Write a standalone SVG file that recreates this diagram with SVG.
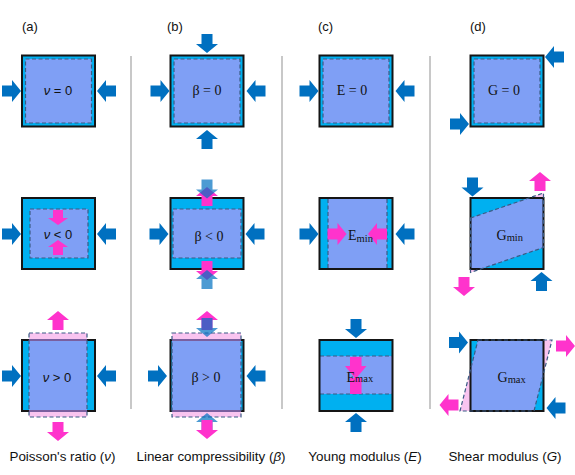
<svg xmlns="http://www.w3.org/2000/svg" xmlns:xlink="http://www.w3.org/1999/xlink" width="575" height="475" viewBox="0 0 575 475">
<style>
.cy{fill:#00b0f0}
.bd{fill:none;stroke:#151515;stroke-width:2}
.in{fill:#7f9ff5}
.dash{stroke:#3b5b85;stroke-width:1.2;stroke-dasharray:4 2.5}
.nf{fill:none}
.pk{fill:#f9c4f0}
.ab{fill:#0070c0}
.ap{fill:#ff33cc}
.at{fill:#0070c0;fill-opacity:0.7}
.pl{stroke:#7a5f9f;stroke-width:2}
.div{stroke:#c8c8c8;stroke-width:2}
.sans{font-family:"Liberation Sans",Arial,sans-serif;fill:#111}
.ser{font-family:"Liberation Serif","Times New Roman",serif;fill:#111;font-size:14px}
.lbl{font-size:13px}
.cap{font-size:13.4px}
</style>
<defs>
<path id="ar" d="M0,-5.5H10V-11L19,0L10,11V5.5H0Z"/>
<path id="ars" d="M0,-5H8V-10L15,0L8,10V5H0Z"/>
</defs>
<rect width="575" height="475" fill="#fff"/>
<g id="dividers">
<line class="div" x1="131" y1="56" x2="131" y2="409"/>
<line class="div" x1="282" y1="56" x2="282" y2="409"/>
<line class="div" x1="430" y1="56" x2="430" y2="409"/>
</g>
<g id="headers" class="sans lbl">
<text x="22" y="31">(a)</text>
<text x="167" y="31">(b)</text>
<text x="318" y="31">(c)</text>
<text x="470" y="31">(d)</text>
</g>
<g id="a1">
<rect class="cy" x="22" y="55.5" width="73" height="71"/>
<rect class="in dash" x="25.5" y="59" width="66" height="64"/>
<rect class="bd" x="22" y="55.5" width="73" height="71"/>
<text class="sans lbl" x="58" y="95" text-anchor="middle"><tspan font-style="italic">ν</tspan> = 0</text>
<use href="#ar" class="ab" transform="translate(2,91)"/>
<use href="#ar" class="ab" transform="translate(116,91) rotate(180)"/>
</g>
<g id="a2">
<rect class="cy" x="22" y="198" width="73" height="71"/>
<rect class="in dash" x="30" y="209" width="58" height="49"/>
<rect class="bd" x="22" y="198" width="73" height="71"/>
<use href="#ars" class="ap" transform="translate(58,210) rotate(90)"/>
<use href="#ars" class="ap" transform="translate(58,255) rotate(-90)"/>
<text class="sans lbl" x="58" y="239" text-anchor="middle"><tspan font-style="italic">ν</tspan> &lt; 0</text>
<use href="#ar" class="ab" transform="translate(2,234)"/>
<use href="#ar" class="ab" transform="translate(116,234) rotate(180)"/>
</g>
<g id="a3">
<rect class="pk" x="29" y="333" width="58" height="84"/>
<rect class="cy" x="22" y="340" width="73" height="71"/>
<rect class="in" x="29" y="340" width="58" height="71"/>
<rect class="bd" x="22" y="340" width="73" height="71"/>
<line class="pl" x1="29" y1="340" x2="87" y2="340"/>
<line class="pl" x1="29" y1="411" x2="87" y2="411"/>
<rect class="dash nf" x="29" y="333" width="58" height="84"/>
<text class="sans lbl" x="57" y="381.5" text-anchor="middle"><tspan font-style="italic">ν</tspan> &gt; 0</text>
<use href="#ar" class="ap" transform="translate(58,330) rotate(-90)"/>
<use href="#ar" class="ap" transform="translate(58,422) rotate(90)"/>
<use href="#ar" class="ab" transform="translate(2,376)"/>
<use href="#ar" class="ab" transform="translate(116,376) rotate(180)"/>
</g>
<g id="b1">
<rect class="cy" x="170.5" y="55.5" width="73" height="71"/>
<rect class="in dash" x="174" y="59" width="66" height="64"/>
<rect class="bd" x="170.5" y="55.5" width="73" height="71"/>
<text class="ser" x="207" y="95" text-anchor="middle">β = 0</text>
<use href="#ar" class="ab" transform="translate(150.5,91)"/>
<use href="#ar" class="ab" transform="translate(265.5,91) rotate(180)"/>
<use href="#ar" class="ab" transform="translate(207,34) rotate(90)"/>
<use href="#ar" class="ab" transform="translate(207,149) rotate(-90)"/>
</g>
<g id="b2">
<rect class="cy" x="170.5" y="198" width="73" height="71"/>
<rect class="in dash" x="173" y="209" width="68" height="49"/>
<rect class="bd" x="170.5" y="198" width="73" height="71"/>
<text class="ser" x="209" y="241" text-anchor="middle">β &lt; 0</text>
<use href="#ar" class="ab" transform="translate(149.5,234)"/>
<use href="#ar" class="ab" transform="translate(264.5,234) rotate(180)"/>
<use href="#ar" class="ap" transform="translate(207,206) rotate(-90)"/>
<use href="#ar" class="at" transform="translate(207,179.5) rotate(90)"/>
<use href="#ar" class="ap" transform="translate(207,261) rotate(90)"/>
<use href="#ar" class="at" transform="translate(207,289) rotate(-90)"/>
</g>
<g id="b3">
<rect class="pk" x="172" y="333" width="69" height="84"/>
<rect class="cy" x="170.5" y="340" width="73" height="71"/>
<rect class="in" x="172" y="340" width="69" height="71"/>
<rect class="bd" x="170.5" y="340" width="73" height="71"/>
<line class="pl" x1="172" y1="340" x2="241" y2="340"/>
<line class="pl" x1="172" y1="411" x2="241" y2="411"/>
<rect class="dash nf" x="172" y="333" width="69" height="84"/>
<text class="ser" x="206" y="381.5" text-anchor="middle">β &gt; 0</text>
<use href="#ar" class="ab" transform="translate(148,376)"/>
<use href="#ar" class="ab" transform="translate(265.5,376) rotate(180)"/>
<use href="#ar" class="ap" transform="translate(207,330) rotate(-90)"/>
<use href="#ar" class="at" transform="translate(207,318) rotate(90)"/>
<use href="#ar" class="at" transform="translate(207,432) rotate(-90)"/>
<use href="#ar" class="ap" transform="translate(207,420) rotate(90)"/>
</g>
<g id="c1">
<rect class="cy" x="319.5" y="55.5" width="73" height="71"/>
<rect class="in dash" x="323" y="59" width="66" height="64"/>
<rect class="bd" x="319.5" y="55.5" width="73" height="71"/>
<text class="ser" x="352" y="95" text-anchor="middle">E = 0</text>
<use href="#ar" class="ab" transform="translate(299.5,91)"/>
<use href="#ar" class="ab" transform="translate(414.5,91) rotate(180)"/>
</g>
<g id="c2">
<rect class="cy" x="319.5" y="198" width="73" height="71"/>
<rect class="in" x="328" y="198" width="59" height="71"/>
<line class="dash" x1="328" y1="199" x2="328" y2="268"/>
<line class="dash" x1="387" y1="199" x2="387" y2="268"/>
<rect class="bd" x="319.5" y="198" width="73" height="71"/>
<use href="#ar" class="ap" transform="translate(327.5,234)"/>
<use href="#ar" class="ap" transform="translate(387,234) rotate(180)"/>
<text class="ser" x="348" y="240">E<tspan font-size="10.5" dy="1.5">min</tspan></text>
<use href="#ar" class="ab" transform="translate(299.5,234)"/>
<use href="#ar" class="ab" transform="translate(414.5,234) rotate(180)"/>
</g>
<g id="c3">
<rect class="cy" x="319.5" y="340" width="73" height="71"/>
<rect class="in" x="319.5" y="356" width="73" height="38"/>
<line class="dash" x1="320" y1="356" x2="392" y2="356"/>
<line class="dash" x1="320" y1="394" x2="392" y2="394"/>
<rect class="bd" x="319.5" y="340" width="73" height="71"/>
<path class="ap" d="M350,357H361.5V366H366.5L355.7,379L345,366H350Z M350,378H361.5V394H350Z"/>
<text class="ser" x="346.5" y="381.5">E<tspan font-size="10.5">max</tspan></text>
<use href="#ar" class="ab" transform="translate(356,319) rotate(90)"/>
<use href="#ar" class="ab" transform="translate(356,432) rotate(-90)"/>
</g>
<g id="d1">
<rect class="cy" x="470.5" y="55.5" width="73" height="71"/>
<rect class="in dash" x="474" y="59" width="66" height="64"/>
<rect class="bd" x="470.5" y="55.5" width="73" height="71"/>
<text class="ser" x="504" y="95" text-anchor="middle">G = 0</text>
<use href="#ar" class="ab" transform="translate(564,57) rotate(180)"/>
<use href="#ar" class="ab" transform="translate(450,124)"/>
</g>
<g id="d2">
<polygon class="pk" points="470.5,218 543.5,193 543.5,247.5 470.5,272.5"/>
<rect class="cy" x="470.5" y="198" width="73" height="71"/>
<polygon class="in" points="470.5,218 528.9,198 543.5,198 543.5,247.5 480.7,269 470.5,269"/>
<rect class="bd" x="470.5" y="198" width="73" height="71"/>
<polygon class="dash nf" points="470.5,218 543.5,193 543.5,247.5 470.5,272.5"/>
<text class="ser" x="496.5" y="239.5">G<tspan font-size="10.5" dy="1">min</tspan></text>
<use href="#ar" class="ab" transform="translate(472.5,177.5) rotate(90)"/>
<use href="#ar" class="ap" transform="translate(540,191) rotate(-90)"/>
<use href="#ar" class="ap" transform="translate(464,277) rotate(90)"/>
<use href="#ar" class="ab" transform="translate(541.5,291) rotate(-90)"/>
</g>
<g id="d3">
<polygon class="pk" points="478,340 552,340 534,411 460,411"/>
<rect class="cy" x="470.5" y="340" width="73" height="71"/>
<polygon class="in" points="478,340 543.5,340 543.5,373.5 534,411 470.5,411 470.5,369.6"/>
<rect class="bd" x="470.5" y="340" width="73" height="71"/>
<polygon class="dash nf" points="478,340 552,340 534,411 460,411"/>
<text class="ser" x="497.5" y="381.7">G<tspan font-size="10.5" dy="1">max</tspan></text>
<use href="#ar" class="ab" transform="translate(449,342.5)"/>
<use href="#ar" class="ap" transform="translate(556,346)"/>
<use href="#ar" class="ap" transform="translate(458.5,405) rotate(180)"/>
<use href="#ar" class="ab" transform="translate(565.5,408) rotate(180)"/>
</g>
<g id="captions" class="sans cap" text-anchor="middle">
<text x="62.5" y="461">Poisson's ratio (<tspan font-style="italic">ν</tspan>)</text>
<text x="211" y="461">Linear compressibility (<tspan font-style="italic">β</tspan>)</text>
<text x="365" y="461">Young modulus (<tspan font-style="italic">E</tspan>)</text>
<text x="505" y="461">Shear modulus (<tspan font-style="italic">G</tspan>)</text>
</g>
</svg>
